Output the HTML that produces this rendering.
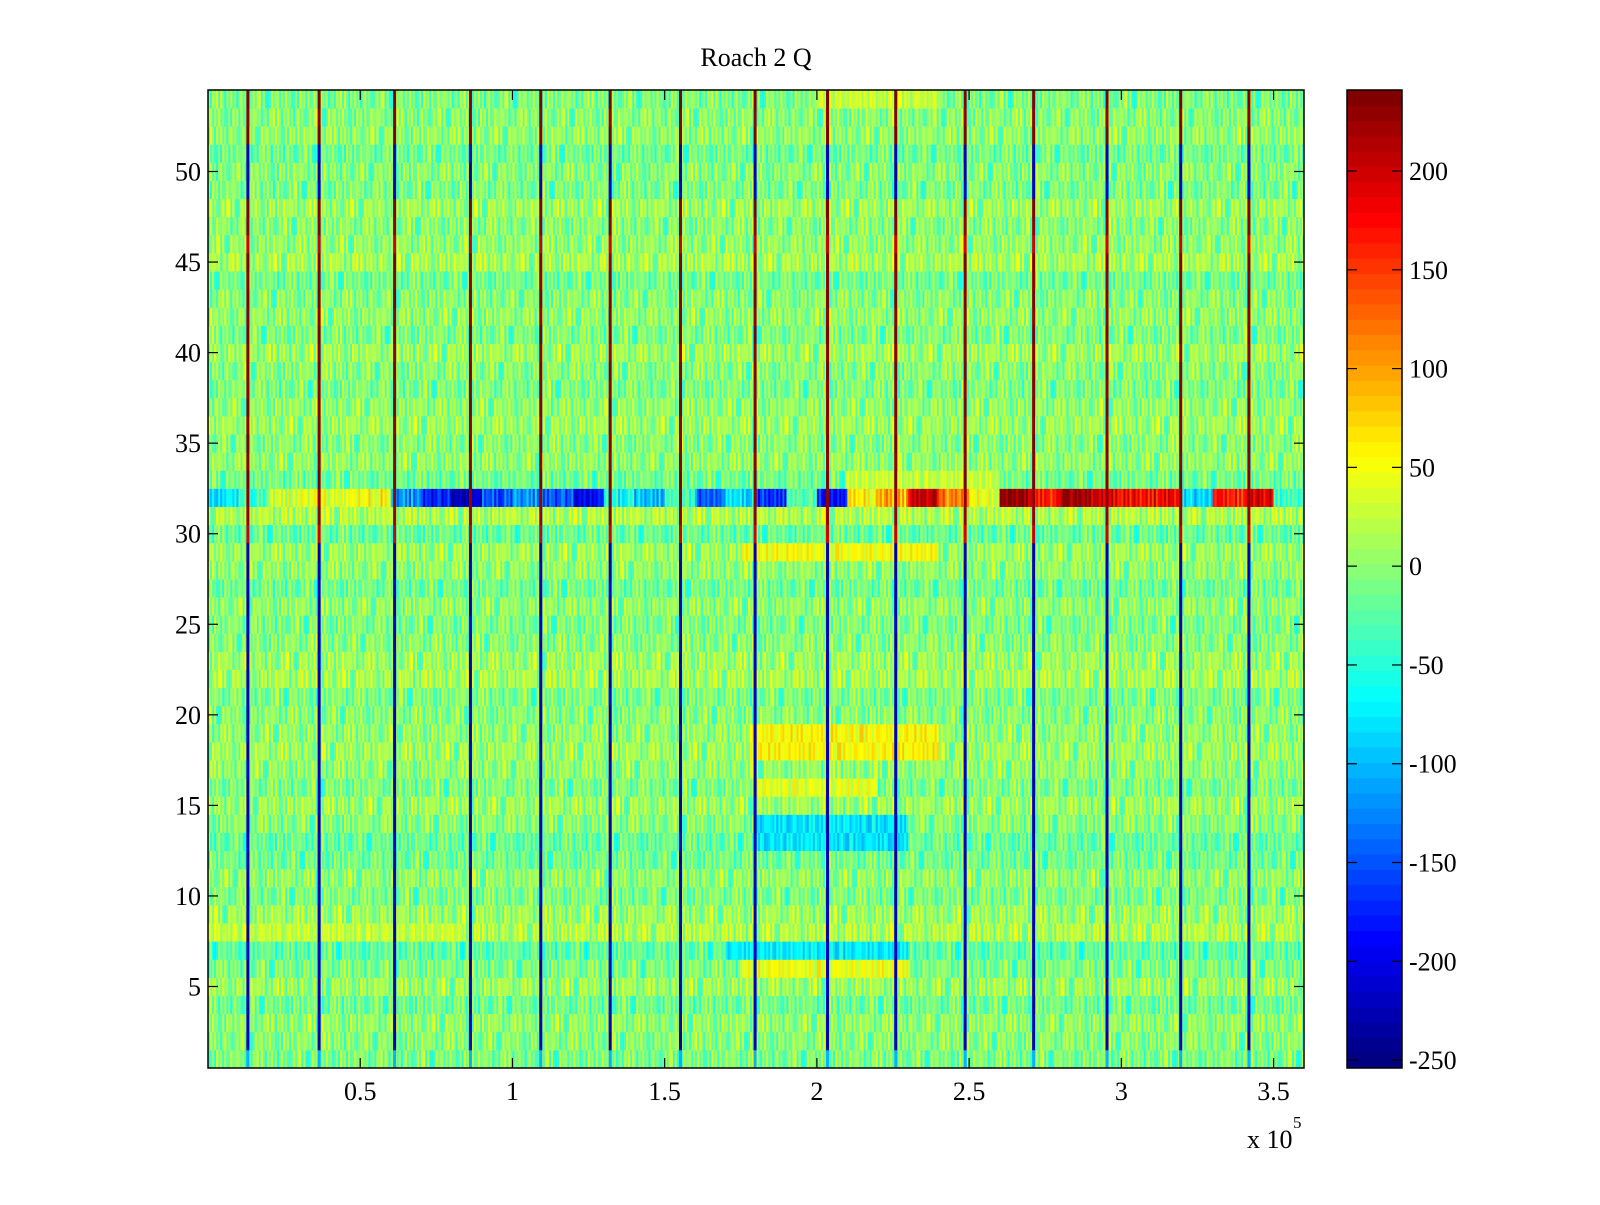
<!DOCTYPE html>
<html><head><meta charset="utf-8">
<style>
html,body{margin:0;padding:0;background:#fff;}
body{width:1600px;height:1200px;position:relative;overflow:hidden;font-family:"Liberation Serif",serif;}
svg text{font-family:"Liberation Serif",serif;font-size:26px;fill:#000;}
</style></head>
<body>
<svg id="chart" width="1600" height="1200" xmlns="http://www.w3.org/2000/svg">
  <text x="756" y="66" text-anchor="middle">Roach 2 Q</text>
  <g id="cells"></g>
  <g id="lines"></g>
  <rect x="208" y="90" width="1096" height="978" fill="none" stroke="#000" stroke-width="1.5"/>
  <g id="axes"></g>
  <g id="cbar"></g>
  <text x="1247" y="1148">x 10</text>
  <text x="1293" y="1128" style="font-size:17px">5</text>
</svg>
<script>
// ---- data ----
const xTicks = [0.5, 1, 1.5, 2, 2.5, 3, 3.5];
const xTickLabels = ["0.5", "1", "1.5", "2", "2.5", "3", "3.5"];
const yTicks = [5, 10, 15, 20, 25, 30, 35, 40, 45, 50];
const cTicks = [200, 150, 100, 50, 0, -50, -100, -150, -200, -250];
const cLim = [-254, 241];
const nRows = 54;
const xMax = 3.6;
const nCols = 540;
// row 32 band values per 0.1e5 block
const bandVals = [-80,-40,30,40,40,50,-120,-180,-220,-150,-120,-150,-190,-60,-100,-40,-140,-80,-170,-30,-180,60,90,200,120,40,230,160,230,190,170,180,-80,160,190,-40];
// row mean offsets (row 1..54)
const rowMeans = [-5,0,5,-10,10,-5,-20,20,10,-5,5,-10,-15,0,10,-5,5,10,5,0,-5,15,10,0,-5,5,-10,5,10,-15,20,0,-10,5,0,10,5,-5,0,10,-5,5,0,-10,15,5,0,10,-5,0,-10,5,0,-5];
// texture values (literal)
const texture = [12,-35,28,-8,41,-22,5,-45,33,-15,20,-3,47,-30,9,-18,36,-40,15,2,-25,30,-10,44,-6,22,-38,18,-12,38,-28,7,-20,25,-42,11,0,34,-33,16,-9,43,-24,4,-36,27,-14,31,-2,-27,19,-44,8,39,-19,24,-7,14,-31,46,-11];
// patches: [row0, row1, x0, x1, value]
const patches = [
  [29,29,1.75,2.4,50],[18,19,1.78,2.4,55],[16,16,1.8,2.2,40],[13,14,1.8,2.3,-80],
  [7,7,1.7,2.3,-75],[6,6,1.75,2.3,45],[8,8,0.0,0.8,25],[33,33,2.1,2.6,25],[54,54,2.0,2.4,25]
];
// vertical lines x positions (1e5 units)
const lineX = [0.131,0.365,0.613,0.862,1.093,1.321,1.552,1.797,2.035,2.259,2.487,2.712,2.953,3.195,3.419];
// line value per row (1..54)
const lineVals = [-100,-230,-220,-230,-220,-230,-220,-230,-220,-230,-220,-230,-220,-230,-220,-230,-220,-230,-220,-230,-220,-230,-220,-230,-220,-230,-220,-230,-230,200,230,230,235,230,235,230,235,230,235,230,235,230,235,230,235,200,230,235,-220,-230,-220,235,230,235];

// ---- helpers ----
const L=208,T=90,W=1096,H=978;
const xs = v => L + v/xMax*W;
const ys = v => T + (nRows+0.5 - v)/nRows*H;
function jet(v){
  let t=(v-cLim[0])/(cLim[1]-cLim[0]); t=Math.max(0,Math.min(1,t));
  t=Math.floor(t*63.999)/63;
  const c=x=>Math.round(255*Math.max(0,Math.min(1,x)));
  return `rgb(${c(1.5-Math.abs(4*t-3))},${c(1.5-Math.abs(4*t-2))},${c(1.5-Math.abs(4*t-1))})`;
}
const NS="http://www.w3.org/2000/svg";
function mk(tag,attrs,parent){const e=document.createElementNS(NS,tag);for(const k in attrs)e.setAttribute(k,attrs[k]);parent.appendChild(e);return e;}

// ---- cells ----
const cells=document.getElementById('cells');
const cw=xMax/nCols;
for(let r=1;r<=nRows;r++){
  for(let c=0;c<nCols;c++){
    const xv=c*cw;
    let v=rowMeans[r-1]+texture[(c*7+r*13)%texture.length]-5;
    if(r===32){ v=bandVals[Math.min(bandVals.length-1,Math.floor(xv/0.1))]+texture[(c*5)%texture.length]*0.8; }
    for(const p of patches){ if(r>=p[0]&&r<=p[1]&&xv>=p[2]&&xv<p[3]) v=p[4]+texture[(c*11+r)%texture.length]*0.6; }
    const el=mk('rect',{x:xs(xv).toFixed(2),y:ys(r+0.5).toFixed(2),width:(W/nCols+0.4).toFixed(2),height:(H/nRows+0.4).toFixed(2),fill:jet(v)},cells);
    
    
  }
}
// ---- vertical lines ----
const lines=document.getElementById('lines');
for(const lx of lineX){
  for(let r=1;r<=nRows;r++){
    const el=mk('rect',{x:(xs(lx)-1.5).toFixed(2),y:ys(r+0.5).toFixed(2),width:3,height:(H/nRows+0.4).toFixed(2),fill:jet(lineVals[r-1])},lines);
    
    
  }
}
// ---- axes ----
const axes=document.getElementById('axes');
xTicks.forEach((t,i)=>{
  const x=xs(t);
  mk('line',{x1:x,y1:T+H,x2:x,y2:T+H-10,stroke:'#000','stroke-width':1.2},axes);
  mk('line',{x1:x,y1:T,x2:x,y2:T+10,stroke:'#000','stroke-width':1.2},axes);
  const tx=mk('text',{x:x,y:1100,'text-anchor':'middle'},axes);
  tx.textContent=xTickLabels[i];
  
  
});
yTicks.forEach(t=>{
  const y=ys(t);
  mk('line',{x1:L,y1:y,x2:L+10,y2:y,stroke:'#000','stroke-width':1.2},axes);
  mk('line',{x1:L+W,y1:y,x2:L+W-10,y2:y,stroke:'#000','stroke-width':1.2},axes);
  const tx=mk('text',{x:201,y:y+9,'text-anchor':'end'},axes);
  tx.textContent=String(t);
  
  
});
// ---- colorbar ----
const cb=document.getElementById('cbar');
const CL=1347,CW=55;
const cy=v=>T+(cLim[1]-v)/(cLim[1]-cLim[0])*H;
for(let i=0;i<64;i++){
  const v0=cLim[0]+(cLim[1]-cLim[0])*i/64, v1=cLim[0]+(cLim[1]-cLim[0])*(i+1)/64;
  const el=mk('rect',{x:CL,y:cy(v1).toFixed(2),width:CW,height:(cy(v0)-cy(v1)+0.5).toFixed(2),fill:jet((v0+v1)/2)},cb);
  
  
}
mk('rect',{x:CL,y:T,width:CW,height:H,fill:'none',stroke:'#000','stroke-width':1.5},cb);
cTicks.forEach(t=>{
  const y=cy(t);
  mk('line',{x1:CL,y1:y,x2:CL+10,y2:y,stroke:'#000','stroke-width':1.2},cb);
  mk('line',{x1:CL+CW,y1:y,x2:CL+CW-10,y2:y,stroke:'#000','stroke-width':1.2},cb);
  const tx=mk('text',{x:1409,y:y+9},cb);
  tx.textContent=String(t);
  
  
});
</script>
</body></html>
